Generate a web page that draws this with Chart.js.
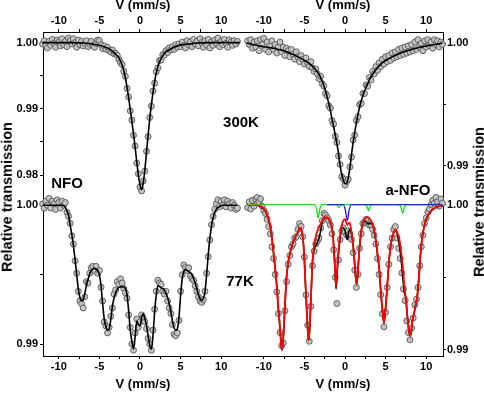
<!DOCTYPE html>
<html><head><meta charset="utf-8">
<script src="https://cdn.jsdelivr.net/npm/chart.js@4/dist/chart.umd.min.js"></script>
<style>
html,body{margin:0;padding:0;background:#fff;}
#wrap{position:relative;width:484px;height:394px;overflow:hidden;background:#fff;}
canvas{position:absolute;}
.lbl{position:absolute;font-family:"Liberation Sans",Arial,sans-serif;font-weight:bold;color:#000;white-space:nowrap;line-height:1;transform:translate(-50%,-50%);}
.rot{transform:translate(-50%,-50%) rotate(-90deg);}
</style></head><body>
<div id="wrap">
<canvas id="ul" width="243" height="212" style="left:0;top:0;width:243px;height:212px"></canvas>
<canvas id="ur" width="241" height="212" style="left:243px;top:0;width:241px;height:212px"></canvas>
<canvas id="ll" width="243" height="214" style="left:0;top:180px;width:243px;height:214px"></canvas>
<canvas id="lr" width="241" height="214" style="left:243px;top:180px;width:241px;height:214px"></canvas>
<div class="lbl" style="left:67px;top:182px;font-size:15px">NFO</div>
<div class="lbl" style="left:241px;top:121px;font-size:15px">300K</div>
<div class="lbl" style="left:240px;top:280px;font-size:15px">77K</div>
<div class="lbl" style="left:408px;top:189px;font-size:15px">a-NFO</div>
<div class="lbl rot" style="left:7px;top:197px;font-size:14.5px">Relative transmission</div>
<div class="lbl rot" style="left:479px;top:202px;font-size:14.5px">Relative transmission</div>
</div>
<script>
// ---- data ----
const xTicks = [-10,-7.5,-5,-2.5,0,2.5,5,7.5,10];
const yTicksNfo300 = [0.98,0.985,0.99,0.995,1.0];
const yTicksOther = [0.99,0.995,1.0];

const vel = [-12,-11.8,-11.6,-11.4,-11.2,-11,-10.8,-10.6,-10.4,-10.2,-10,-9.8,-9.6,-9.4,-9.2,-9,-8.8,-8.6,-8.4,-8.2,-8,-7.8,-7.6,-7.4,-7.2,-7,-6.8,-6.6,-6.4,-6.2,-6,-5.8,-5.6,-5.4,-5.2,-5,-4.8,-4.6,-4.4,-4.2,-4,-3.8,-3.6,-3.4,-3.2,-3,-2.8,-2.6,-2.4,-2.2,-2,-1.8,-1.6,-1.4,-1.2,-1,-0.8,-0.6,-0.4,-0.2,0,0.2,0.4,0.6,0.8,1,1.2,1.4,1.6,1.8,2,2.2,2.4,2.6,2.8,3,3.2,3.4,3.6,3.8,4,4.2,4.4,4.6,4.8,5,5.2,5.4,5.6,5.8,6,6.2,6.4,6.6,6.8,7,7.2,7.4,7.6,7.8,8,8.2,8.4,8.6,8.8,9,9.2,9.4,9.6,9.8,10,10.2,10.4,10.6,10.8,11,11.2,11.4,11.6,11.8,12];

// NFO 300K
const nfo300Pts = [
0.9998,1.0003,0.9995,0.9992,1.0002,0.9996,1.0005,0.9999,0.9993,1.0004,
1.0001,0.9995,1.0006,0.9997,1.0002,0.9994,1.0007,1.0003,0.9998,1.0006,
1.0000,0.9993,1.0004,0.9997,1.0002,0.9995,0.9999,1.0003,0.9994,0.9998,
1.0002,0.9996,0.9993,0.9999,1.0004,1.0003,0.9997,0.9991,0.9995,0.9990,
0.9993,0.9988,0.9986,0.9989,0.9983,0.9984,0.9981,0.9975,0.9970,0.9967,
0.9957,0.9949,0.9931,0.9918,0.9897,0.9883,0.9860,0.9844,0.9818,0.9802,
0.9782,0.9776,0.9791,0.9806,0.9836,0.9858,0.9887,0.9904,0.9927,0.9939,
0.9956,0.9962,0.9973,0.9974,0.9982,0.9981,0.9988,0.9985,0.9992,0.9989,
0.9994,0.9990,0.9997,0.9993,0.9998,0.9994,1.0001,0.9996,0.9992,1.0003,
0.9997,1.0001,0.9994,1.0005,0.9998,1.0002,0.9995,1.0006,1.0000,0.9993,
1.0003,0.9997,1.0005,0.9992,1.0001,0.9996,1.0004,0.9999,1.0007,0.9994,
1.0002,0.9997,1.0005,0.9999,0.9993,1.0004,1.0001,0.9996,1.0003,0.9998,
1.0002];
const nfo300FitV = [-12,-9,-7,-6,-5,-4.4,-4,-3.6,-3.2,-2.8,-2.6,-2.4,-2.2,-2,-1.8,-1.6,-1.4,-1.2,-1,-0.8,-0.6,-0.4,-0.2,0,0.2,0.4,0.6,0.8,1,1.2,1.4,1.6,1.8,2,2.2,2.4,2.6,2.8,3.2,3.6,4,4.6,5.2,6,7,9,12.3];
const nfo300Fit = [1,1,0.99995,0.9998,0.9996,0.9994,0.9992,0.9989,0.9985,0.998,0.9977,0.9972,0.9966,0.9958,0.9947,0.9933,0.9917,0.9899,0.9881,0.9862,0.9842,0.982,0.98,0.9785,0.9778,0.9788,0.9808,0.9834,0.986,0.9885,0.9906,0.9925,0.9941,0.9954,0.9964,0.9971,0.9976,0.998,0.9986,0.9989,0.9992,0.9995,0.9997,0.9998,0.99995,1,1];

// a-NFO 300K
const anfo300Pts = [
1.0002,0.9999,1.0003,0.9996,1.0001,0.9997,1.0002,0.9994,1.0003,0.9999,
1.0004,0.9995,1.0001,0.9993,0.9998,1.0002,0.9995,0.9999,0.9992,0.9997,
1.0001,0.9993,0.9997,0.9990,0.9996,0.9994,0.9989,0.9995,0.9991,0.9987,
0.9993,0.9989,0.9985,0.9990,0.9987,0.9983,0.9988,0.9984,0.9981,0.9985,
0.9980,0.9977,0.9979,0.9975,0.9971,0.9973,0.9967,0.9965,0.9959,0.9957,
0.9949,0.9947,0.9937,0.9934,0.9924,0.9919,0.9908,0.9901,0.9891,0.9889,
0.9884,0.9887,0.9889,0.9899,0.9907,0.9921,0.9925,0.9937,0.9940,0.9950,
0.9951,0.9959,0.9959,0.9966,0.9965,0.9972,0.9970,0.9977,0.9975,0.9981,
0.9978,0.9984,0.9981,0.9987,0.9983,0.9989,0.9985,0.9990,0.9986,0.9992,
0.9988,0.9993,0.9989,0.9995,0.9990,0.9996,0.9991,0.9997,0.9992,0.9998,
0.9993,0.9999,0.9994,1.0001,0.9995,1.0003,0.9997,1.0000,0.9994,1.0002,
0.9997,1.0003,0.9998,1.0001,0.9996,1.0003,0.9999,1.0002,0.9997,1.0001,
0.9999];
const anfo300FitV = [-12.1,-11.6,-11.2,-10.8,-10.4,-10,-9.6,-9.2,-8.8,-8.4,-8,-7.6,-7.2,-6.8,-6.4,-6,-5.6,-5.2,-4.8,-4.4,-4,-3.6,-3.2,-2.8,-2.4,-2.2,-2,-1.8,-1.6,-1.4,-1.2,-1,-0.8,-0.6,-0.4,-0.2,0,0.2,0.4,0.6,0.8,1,1.2,1.4,1.6,1.8,2,2.2,2.4,2.6,2.8,3,3.2,3.6,4,4.4,4.8,5.2,5.6,6,6.4,6.8,7.2,7.6,8,8.4,8.8,9.2,9.6,10,10.4,10.8,11.2,11.6,12];
const anfo300Fit = [1,0.99994,0.99988,0.99982,0.99977,0.99972,0.99968,0.99964,0.9996,0.99954,0.99947,0.99939,0.9993,0.9992,0.99908,0.99896,0.99883,0.99869,0.99853,0.99835,0.99812,0.99783,0.99745,0.9969,0.9961,0.9956,0.9951,0.9945,0.9938,0.9932,0.9925,0.9918,0.991,0.99,0.9893,0.9888,0.98855,0.98855,0.989,0.9898,0.9909,0.9919,0.9927,0.9935,0.9942,0.9948,0.9953,0.9957,0.9961,0.9964,0.9967,0.997,0.99725,0.99765,0.998,0.99828,0.9985,0.99867,0.99882,0.99895,0.99907,0.99918,0.99928,0.99937,0.99945,0.99953,0.9996,0.99967,0.99973,0.99978,0.99983,0.99988,0.99992,0.99996,1];

// NFO 77K
const nfo77Pts = [
1.0001,0.9998,1.0003,1.0000,1.0005,0.9998,1.0003,1.0001,0.9997,1.0004,
1.0002,0.9998,1.0003,1.0000,1.0002,0.9995,0.9992,0.9987,0.9978,0.9972,
0.9960,0.9951,0.9938,0.9931,0.9929,0.9926,0.9934,0.9945,0.9944,0.9951,
0.9955,0.9956,0.9953,0.9956,0.9951,0.9953,0.9941,0.9931,0.9916,0.9913,
0.9908,0.9912,0.9920,0.9926,0.9936,0.9939,0.9945,0.9943,0.9947,0.9944,
0.9940,0.9937,0.9933,0.9921,0.9912,0.9900,0.98955,0.9908,0.9918,0.9912,
0.9916,0.9921,0.9919,0.9916,0.9911,0.9904,0.9900,0.98955,0.9910,0.9925,
0.9938,0.9946,0.9944,0.9943,0.9938,0.9936,0.9938,0.9931,0.9926,0.9922,
0.9914,0.9907,0.9906,0.9908,0.9917,0.9938,0.9950,0.9957,0.9955,0.9953,
0.9955,0.9949,0.9947,0.9946,0.9942,0.9938,0.9934,0.9931,0.9930,0.9932,
0.9938,0.9951,0.9963,0.9975,0.9986,0.9992,0.9997,1.0001,1.0004,0.9999,
1.0003,1.0000,1.0004,0.9999,1.0003,1.0001,0.9998,1.0002,1.0000,0.9997,
0.9998];
const nfo77FitV = [-12,-9.6,-9.2,-9,-8.8,-8.6,-8.4,-8.2,-8,-7.8,-7.6,-7.4,-7.2,-7,-6.8,-6.6,-6.4,-6.2,-6,-5.8,-5.6,-5.4,-5.2,-5,-4.8,-4.6,-4.4,-4.2,-4,-3.8,-3.6,-3.4,-3.2,-3,-2.8,-2.6,-2.4,-2.2,-2,-1.8,-1.6,-1.4,-1.2,-1,-0.8,-0.6,-0.4,-0.2,0,0.2,0.4,0.6,0.8,1,1.2,1.4,1.6,1.8,2,2.2,2.4,2.6,2.8,3,3.2,3.4,3.6,3.8,4,4.2,4.4,4.6,4.8,5,5.2,5.4,5.6,5.8,6,6.2,6.4,6.6,6.8,7,7.2,7.4,7.6,7.8,8,8.2,8.4,8.6,8.8,9,9.2,9.4,9.8,10.2,12];
const nfo77Fit = [1,1,0.99985,0.9996,0.9993,0.99856,0.9979,0.9971,0.9961,0.995,
0.994,0.99335,0.99312,0.99318,0.99365,0.9942,0.99465,0.99505,0.99528,0.9954,
0.99545,0.9954,0.9953,0.995,0.9942,0.9929,0.9918,0.99125,0.991,0.9911,
0.99175,0.9927,0.9933,0.9937,0.99395,0.99408,0.99412,0.99413,0.9941,0.994,
0.99355,0.9924,0.991,0.9902,0.98965,0.9905,0.99165,0.9914,0.9913,0.9919,
0.99218,0.9918,0.99135,0.9906,0.9899,0.98962,0.9906,0.9923,0.9935,0.9942,
0.99415,0.99405,0.994,0.9939,0.99365,0.99335,0.9929,0.9923,0.99165,0.99115,
0.99098,0.9911,0.9919,0.9935,0.9947,0.99525,0.99535,0.9953,0.99522,0.99515,
0.995,0.9947,0.9944,0.99395,0.99355,0.99325,0.99313,0.9933,0.99375,0.99495,
0.9964,0.9976,0.9985,0.9991,0.99945,0.99972,0.99992,1,1];

// a-NFO 77K
const anfo77Pts = [
0.9998,1.0002,0.9997,1.0003,0.9999,1.0004,1.0005,1.0002,1.0004,0.9999,
0.9996,0.9994,0.9990,0.9985,0.9980,0.9971,0.9963,0.9952,0.9940,0.9925,
0.9912,0.9903,0.9905,0.9927,0.9947,0.9959,0.9965,0.9971,0.9973,0.9977,
0.9978,0.9983,0.9987,0.9985,0.9978,0.9964,0.9938,0.9917,0.9906,0.9930,
0.9958,0.9968,0.9973,0.9975,0.9977,0.9984,0.9989,0.9994,0.9993,0.9991,
0.9989,0.9986,0.9980,0.9969,0.9950,0.9932,0.9962,0.9976,0.9982,0.9984,
0.9981,0.9979,0.9982,0.9980,0.9976,0.9967,0.9955,0.9943,0.9952,0.9970,
0.9980,0.9987,0.9988,0.9990,0.9987,0.9986,0.9986,0.9983,0.9979,0.9973,
0.9963,0.9952,0.9938,0.9925,0.9916,0.9926,0.9943,0.9959,0.9971,0.9977,
0.9983,0.9985,0.9977,0.9970,0.9963,0.9953,0.9942,0.9934,0.9920,0.9912,
0.9907,0.9915,0.9922,0.9931,0.9935,0.9943,0.9958,0.9971,0.9979,0.9987,
0.9991,0.9995,0.9997,1.0000,1.0003,1.0001,1.0005,1.0002,0.9999,1.0004,
1.0001];
const anfo77FitV = [-12,-11,-10.4,-10,-9.6,-9.2,-8.9,-8.6,-8.4,-8.2,-8,-7.85,-7.75,-7.6,-7.4,-7.2,-7,-6.8,-6.6,-6.4,-6.2,-6,-5.8,-5.6,-5.45,-5.3,-5.15,-5,-4.85,-4.7,-4.55,-4.45,-4.3,-4.15,-4,-3.8,-3.6,-3.4,-3.1,-2.8,-2.5,-2.2,-1.9,-1.7,-1.5,-1.35,-1.22,-1.1,-0.95,-0.8,-0.6,-0.4,-0.2,0,0.15,0.3,0.45,0.6,0.8,1,1.15,1.3,1.44,1.6,1.75,1.9,2.1,2.4,2.8,3.1,3.4,3.6,3.8,4,4.2,4.4,4.6,4.8,5,5.15,5.3,5.5,5.7,5.95,6.25,6.5,6.7,6.9,7.1,7.3,7.5,7.7,7.85,8,8.15,8.3,8.5,8.7,8.9,9.1,9.3,9.5,9.7,10,10.5,11,11.5,12];
const anfo77Red = [1,0.99997,0.9999,0.9997,0.9993,0.9985,0.9972,0.9956,0.9944,0.9928,
0.9915,0.9903,0.99,0.9908,0.993,0.995,0.996,0.9966,0.997,0.9974,
0.99765,0.9979,0.9981,0.99838,0.9984,0.9981,0.9975,0.9962,0.9943,0.9926,
0.991,0.99067,0.9921,0.9942,0.9961,0.9972,0.9978,0.9982,0.99855,0.9989,
0.99912,0.99912,0.9989,0.9986,0.998,0.9967,0.9955,0.99434,0.9957,0.9969,
0.9979,0.99858,0.9989,0.999,0.9988,0.9986,0.99875,0.9987,0.9981,0.9972,
0.9962,0.9951,0.9945,0.9955,0.9968,0.9977,0.9985,0.999,0.99915,0.999,
0.99868,0.99815,0.99755,0.9966,0.9957,0.9941,0.9928,0.99184,0.9929,0.994,
0.9952,0.9966,0.99745,0.998,0.99828,0.998,0.9976,0.9968,0.9958,0.9945,
0.9935,0.9922,0.9914,0.99098,0.9912,0.992,0.9925,0.9931,0.9937,0.995,
0.9966,0.9977,0.99835,0.999,0.9995,0.99975,0.99988,0.99995];
const anfo77Total = [1,0.99997,0.9999,0.9997,0.9993,0.9985,0.9972,0.9956,0.9944,0.9928,
0.9915,0.9903,0.99,0.9908,0.993,0.995,0.996,0.9966,0.997,0.9974,
0.99765,0.9979,0.9981,0.99838,0.9984,0.9981,0.9975,0.9962,0.9943,0.9926,
0.991,0.99067,0.9921,0.9942,0.9961,0.9969,0.9972,0.9974,0.9979,0.9988,
0.99912,0.99912,0.9989,0.9986,0.998,0.9967,0.9955,0.9942,0.9954,0.9966,
0.9977,0.9984,0.9984,0.9982,0.9978,0.9976,0.9981,0.9983,0.998,0.9972,
0.9962,0.9951,0.9945,0.9955,0.9968,0.9977,0.9985,0.9989,0.9987,0.9987,
0.99868,0.99815,0.99755,0.9966,0.9957,0.9941,0.9928,0.99184,0.9929,0.994,
0.9952,0.9966,0.99745,0.998,0.99828,0.9978,0.9972,0.9963,0.9951,0.994,
0.9935,0.9922,0.9914,0.99098,0.9912,0.992,0.9925,0.9931,0.9937,0.995,
0.9966,0.9977,0.99835,0.999,0.9995,0.99975,0.99988,0.99995];
const anfo77GreenV = [-12,-3.75,-3.5,-3.3,-3.1,-2.85,-1.15,-0.95,-0.75,-0.55,-0.35,2.45,2.7,2.9,3.1,3.35,6.65,6.9,7.1,7.3,7.55,12];
const anfo77Green = [1,1,0.9997,0.9991,0.9997,1,1,0.99995,0.9998,0.99995,1,1,0.9999,0.9996,0.9999,1,1,0.9998,0.9994,0.9998,1,1];
const anfo77BlueV = [-2.2,-0.2,0.05,0.28,0.5,0.75,12];
const anfo77Blue = [1,1,0.9996,0.9989,0.9996,1,1];

// ---- drawing ----
const FONT = '"Liberation Sans", Arial, sans-serif';
const near = (v, s) => Math.abs(v / s - Math.round(v / s)) < 1e-6;
const gridOpt = {display:true, drawOnChartArea:false, drawTicks:true, tickLength:3, color:'#000', lineWidth:1};
const borderOpt = {display:true, color:'#000', width:1};
const tickFont = {family:FONT, size:11, weight:'bold'};

function xScale(pos, min, max) {
  return {
    type:'linear', position:pos, min:min, max:max, bounds:'data',
    afterBuildTicks: s => { s.ticks = xTicks.map(v => ({value:v})); },
    afterFit: s => { s.height = pos === 'top' ? 32 : 38; },
    ticks: {autoSkip:false, maxRotation:0, minRotation:0, padding: 1, color:'#000', font:tickFont,
      callback: v => near(v, 5) ? String(Math.round(v)) : ''},
    grid: gridOpt, border: borderOpt,
    title: {display:true, text:'V (mm/s)', color:'#000', font:{family:FONT, size:13, weight:'bold'},
      padding: pos === 'top' ? {top:-2, bottom:0} : {top:0, bottom:2}}
  };
}
function yScale(pos, min, max, ticks) {
  return {
    type:'linear', position:pos, min:min, max:max, bounds:'data',
    afterBuildTicks: s => { s.ticks = ticks.map(v => ({value:v})); },
    afterFit: s => { s.width = pos === 'left' ? 43 : 41; },
    ticks: {autoSkip:false, padding: pos === 'left' ? 2 : 1, color:'#000', font:tickFont,
      callback: v => near(v, 0.01) ? v.toFixed(2) : ''},
    grid: gridOpt, border: borderOpt
  };
}
function lineDs(xs, ys, color, width, order) {
  return {data: xs.map((v, i) => ({x:v, y:ys[i]})), showLine:true, pointRadius:0, borderColor:color,
    borderWidth:width, cubicInterpolationMode:'monotone', fill:false, clip:false, order:order};
}
function ptsDs(ys) {
  return {data: vel.map((v, i) => ({x:v, y:ys[i]})), showLine:false, pointRadius:3,
    pointBackgroundColor:'#c2c2c2', pointBorderColor:'#4a4a4a', pointBorderWidth:0.8, clip:false, order:10};
}
function panel(id, datasets, xs, ys, pad) {
  new Chart(document.getElementById(id), {
    type:'scatter',
    data:{datasets:datasets},
    options:{
      responsive:false, maintainAspectRatio:false, animation:false, devicePixelRatio:1, events:[],
      layout:{padding:pad, autoPadding:false},
      plugins:{legend:{display:false}, tooltip:{enabled:false}},
      scales:{x:xs, y:ys}
    }
  });
}

panel('ul', [lineDs(nfo300FitV, nfo300Fit, '#000', 1.6, 1), ptsDs(nfo300Pts)],
  xScale('top', -11.946, 12.685), yScale('left', 0.976838, 1.001612, yTicksNfo300), {top:0, bottom:16, left:0, right:0});
panel('ur', [lineDs(anfo300FitV, anfo300Fit, '#000', 1.6, 1), ptsDs(anfo300Pts)],
  xScale('top', -12.562, 12.069), yScale('right', 0.987525, 1.000923, yTicksOther), {top:0, bottom:16, left:0, right:0});
panel('ll', [lineDs(nfo77FitV, nfo77Fit, '#000', 1.6, 1), ptsDs(nfo77Pts)],
  xScale('bottom', -11.946, 12.685), yScale('left', 0.989135, 1.000671, yTicksOther), {top:16, bottom:0, left:0, right:0});
panel('lr', [
  lineDs(anfo77BlueV, anfo77Blue, '#1f1fff', 1.3, 1),
  lineDs(anfo77GreenV, anfo77Green, '#11dd11', 1.3, 2),
  lineDs(anfo77FitV, anfo77Red, '#ff0000', 1.8, 3),
  lineDs(anfo77FitV, anfo77Total, '#000', 1.6, 4),
  ptsDs(anfo77Pts)],
  xScale('bottom', -12.562, 12.069), yScale('right', 0.989587, 1.000599, yTicksOther), {top:16, bottom:0, left:0, right:0});
</script>
</body></html>
